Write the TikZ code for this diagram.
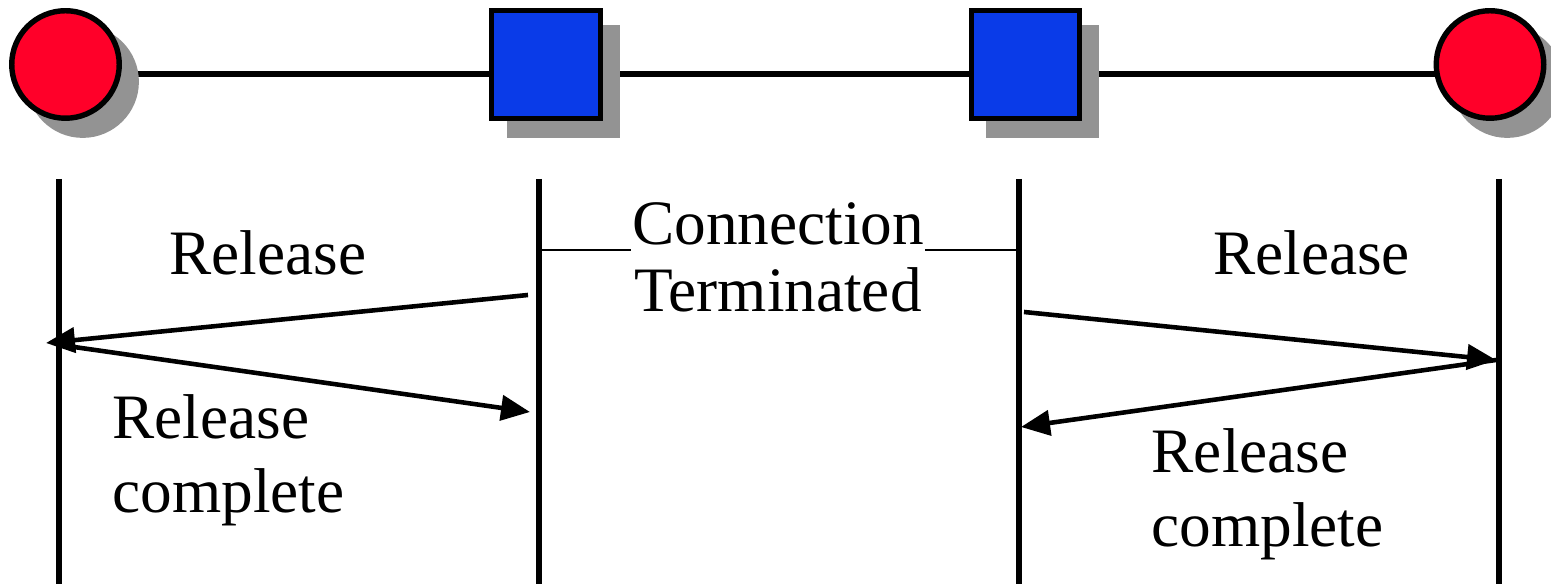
\documentclass[tikz,border=0pt]{standalone}
\usepackage{fontspec}
\setmainfont{Liberation Serif}
\usetikzlibrary{arrows.meta}
\usetikzlibrary{shadows}
\usetikzlibrary{backgrounds}
\definecolor{endred}{RGB}{255,0,41}
\definecolor{swblue}{RGB}{10,59,232}
\definecolor{shadowgray}{RGB}{147,147,147}

\begin{document}
\begin{tikzpicture}
\tikzset{gray shadow/.style={drop shadow={opacity=1, fill=shadowgray, shadow xshift=0.165cm, shadow yshift=-0.165cm, shadow scale=1.045}}}
\tikzstyle{terminal} = [circle, draw, line width=1.55pt, fill=endred, minimum size=1.075cm, inner sep=0, gray shadow]
\tikzstyle{switch} = [rectangle, draw, line width=1.55pt, fill=swblue, minimum size=1.085cm, inner sep=0, gray shadow]
\tikzstyle{pointer} = [line width=1.3pt, -{Triangle[length=0.29cm, width=0.25cm]}]
\tikzstyle{lifeline} = [line width=1.7pt]
\tikzstyle{msg} = [font=\fontsize{18}{21.3}\selectfont, inner sep=0, align=left]

\useasboundingbox (0,0) rectangle (15.51,5.84);

\node[terminal] (p1) at (0.655,5.195) {};
\node[switch] (p2) at (5.46,5.195) {};
\node[switch] (p3) at (10.255,5.195) {};
\node[terminal] (p4) at (14.90,5.195) {};
\begin{scope}[on background layer]
\draw [line width=1.6pt] ([yshift=-0.095cm]p1.center) -- ([yshift=-0.095cm]p2.center) -- ([yshift=-0.095cm]p3.center) -- ([yshift=-0.095cm]p4.center);
\end{scope}

\foreach \x [count=\i] in {0.59,5.39,10.19,14.99} {
  \coordinate (t\i) at (\x,4.05);
  \coordinate (b\i) at (\x,0);
  \draw [lifeline] (t\i) -- (b\i);
}

% base = last line here
\node[msg, align=center, font=\fontsize{18}{19.1}\selectfont, anchor=base] (term) at (7.78,2.72) {Connection\\Terminated};
\coordinate (m1) at (5.39,3.34);
\coordinate (m2) at (10.19,3.34);
\draw [line width=0.8pt] (m1) -- (m1 -| term.west);
\draw [line width=0.8pt] (m2) -- (m2 -| term.east);

\coordinate (a1) at (5.28,2.89);
\coordinate (a2) at (0.46,2.41);
\coordinate (a3) at (0.60,2.39);
\coordinate (a4) at (5.30,1.72);
\coordinate (a5) at (10.24,2.72);
\coordinate (a6) at (14.96,2.24);
\coordinate (a7) at (14.96,2.24);
\coordinate (a8) at (10.21,1.57);
\draw [pointer] (a1) -- (a2);
\draw [pointer] (a3) -- (a4);
\draw [pointer] (a5) -- (a6);
\draw [pointer] (a7) -- (a8);

\node[msg, anchor=base] (rel1) at (2.68,3.09) {Release};
\node[msg, anchor=base west] (done1) at (1.12,0.71) {Release\\complete};
\node[msg, anchor=base] (rel2) at (13.115,3.09) {Release};
\node[msg, anchor=base west] (done2) at (11.51,0.37) {Release\\complete};
\end{tikzpicture}
\end{document}
